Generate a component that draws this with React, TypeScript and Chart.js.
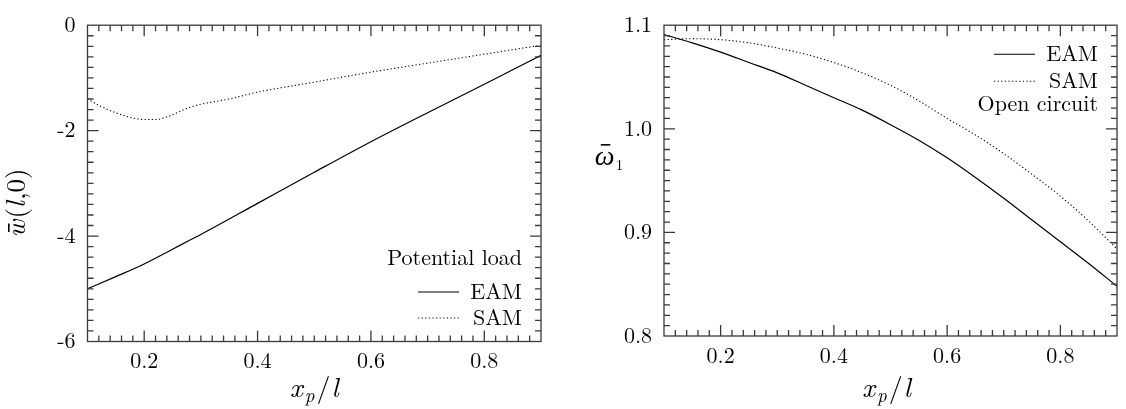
import React, { useEffect, useRef } from 'react';
import { Chart, registerables } from 'chart.js';

Chart.register(...registerables);

// ---------- data ----------
const xTicks = [0.2, 0.4, 0.6, 0.8];
const leftYTicks = [0, -2, -4, -6];
const rightYTicks = [0.8, 0.9, 1.0, 1.1];

const seriesNames = ['EAM', 'SAM'];
const leftLegendTitle = 'Potential load';
const rightLegendNote = 'Open circuit';

const leftEamX = [0.1, 0.15, 0.2, 0.25, 0.28, 0.3, 0.4, 0.5, 0.6, 0.7, 0.8, 0.9];
const leftEamY = [-5.0, -4.77, -4.53, -4.25, -4.08, -3.97, -3.38, -2.79, -2.21, -1.66, -1.12, -0.57];

const leftSamX = [0.1, 0.12, 0.14, 0.16, 0.18, 0.2, 0.22, 0.24, 0.26, 0.28, 0.3, 0.35, 0.4, 0.5, 0.6, 0.7, 0.8, 0.9];
const leftSamY = [-1.4, -1.52, -1.62, -1.7, -1.76, -1.79, -1.79, -1.74, -1.65, -1.56, -1.5, -1.4, -1.27, -1.08, -0.89, -0.72, -0.55, -0.38];

const rightX = [0.1, 0.15, 0.2, 0.25, 0.3, 0.35, 0.4, 0.45, 0.5, 0.55, 0.6, 0.65, 0.7, 0.75, 0.8, 0.85, 0.9];
const rightEamY = [1.091, 1.083, 1.074, 1.064, 1.054, 1.042, 1.03, 1.018, 1.004, 0.989, 0.972, 0.953, 0.933, 0.912, 0.891, 0.87, 0.848];
const rightSamY = [1.086, 1.087, 1.086, 1.083, 1.078, 1.072, 1.064, 1.054, 1.042, 1.027, 1.01, 0.994, 0.976, 0.956, 0.935, 0.911, 0.884];

// ---------- styling ----------
const FAMILY = "'Latin Modern Roman', 'Liberation Serif', serif";
const GREEK_FAMILY = "'Liberation Serif', serif";
const FRAME = '#3a3a3a';
const DOT_DASH = [1.2, 2.4];

type Part = { t: string; size: number; italic?: boolean; dy?: number; pad?: number; bar?: number; family?: string };

function drawParts(ctx: CanvasRenderingContext2D, parts: Part[], cx: number, baseline: number) {
  const font = (p: Part) => `${p.italic ? 'italic ' : ''}${p.size}px ${p.family || FAMILY}`;
  let total = 0;
  const ws = parts.map((p) => {
    ctx.font = font(p);
    const w = ctx.measureText(p.t).width + (p.pad || 0);
    total += w;
    return w;
  });
  let x = cx - total / 2;
  ctx.textAlign = 'left';
  ctx.textBaseline = 'alphabetic';
  ctx.fillStyle = '#000';
  parts.forEach((p, i) => {
    ctx.font = font(p);
    ctx.fillText(p.t, x, baseline + (p.dy || 0));
    if (p.bar) {
      const w = ctx.measureText(p.t).width;
      ctx.save();
      ctx.strokeStyle = '#000';
      ctx.lineWidth = 1.6;
      ctx.beginPath();
      const by = baseline - p.size * p.bar;
      ctx.moveTo(x + w * 0.3, by);
      ctx.lineTo(x + w * 0.78, by);
      ctx.stroke();
      ctx.restore();
    }
    x += ws[i];
  });
}

const framePlugin = {
  id: 'frameTicks',
  afterDatasetsDraw(chart: any, _args: any, opts: any) {
    const { ctx, chartArea: a, scales } = chart;
    const xs = scales.x;
    const ys = scales.y;
    ctx.save();
    ctx.strokeStyle = FRAME;
    ctx.lineWidth = 1.3;
    ctx.setLineDash([]);
    ctx.strokeRect(a.left, a.top, a.right - a.left, a.bottom - a.top);
    ctx.beginPath();
    const isMajor = (v: number, arr: number[]) => arr.some((m) => Math.abs(m - v) < 1e-7);
    const nx = Math.round((xs.max - xs.min) / opts.xMinor);
    for (let i = 1; i < nx; i++) {
      const v = xs.min + i * opts.xMinor;
      const p = xs.getPixelForValue(v);
      const L = isMajor(v, opts.xMajor) ? 11 : 6;
      ctx.moveTo(p, a.bottom);
      ctx.lineTo(p, a.bottom - L);
      ctx.moveTo(p, a.top);
      ctx.lineTo(p, a.top + L);
    }
    const ny = Math.round((ys.max - ys.min) / opts.yMinor);
    for (let i = 1; i < ny; i++) {
      const v = ys.min + i * opts.yMinor;
      const p = ys.getPixelForValue(v);
      const L = isMajor(v, opts.yMajor) ? 11 : 6;
      ctx.moveTo(a.left, p);
      ctx.lineTo(a.left + L, p);
      ctx.moveTo(a.right, p);
      ctx.lineTo(a.right - L, p);
    }
    ctx.stroke();
    ctx.restore();
  },
};

const legendPlugin = {
  id: 'cornerLegend',
  afterDraw(chart: any, _args: any, opts: any) {
    const { ctx, chartArea: a } = chart;
    ctx.save();
    ctx.font = `22px ${FAMILY}`;
    ctx.fillStyle = '#000';
    ctx.textAlign = 'right';
    ctx.textBaseline = 'middle';
    (opts.rows || []).forEach((r: any) => {
      const y = r.fromTop ? a.top + r.dy : a.bottom + r.dy;
      ctx.fillText(r.text, a.right - opts.textInset, y);
      if (r.dash) {
        ctx.beginPath();
        ctx.strokeStyle = '#000';
        ctx.lineWidth = 1.1;
        ctx.setLineDash(r.dash === 'dot' ? DOT_DASH : []);
        ctx.moveTo(a.right - opts.lineFrom, y);
        ctx.lineTo(a.right - opts.lineTo, y);
        ctx.stroke();
      }
    });
    ctx.restore();
  },
};

const titlePlugin = {
  id: 'mathTitles',
  afterDraw(chart: any, _args: any, opts: any) {
    const { ctx, chartArea: a } = chart;
    ctx.save();
    const cx = (a.left + a.right) / 2 + (opts.xTitleShift || 0);
    drawParts(
      ctx,
      [
        { t: 'x', size: 28, italic: true, pad: 2 },
        { t: 'p', size: 19, italic: true, dy: 5, pad: 2 },
        { t: '/', size: 28, pad: 1 },
        { t: 'l', size: 28, italic: true },
      ],
      cx,
      397,
    );
    if (opts.yTitle === 'w') {
      ctx.translate(25, 203);
      ctx.rotate(-Math.PI / 2);
      drawParts(
        ctx,
        [
          { t: 'w', size: 27, italic: true, bar: 0.6, pad: 1 },
          { t: '(', size: 27 },
          { t: 'l', size: 27, italic: true, pad: 1 },
          { t: ',0)', size: 27 },
        ],
        0,
        0,
      );
    } else {
      drawParts(
        ctx,
        [
          { t: 'ω', size: 28, italic: true, bar: 0.72, pad: 1, family: GREEK_FAMILY },
          { t: '1', size: 15, dy: 5 },
        ],
        46,
        165,
      );
    }
    ctx.restore();
  },
};

type PanelProps = {
  left: number;
  area: { left: number; top: number; right: number; bottom: number };
  yMin: number;
  yMax: number;
  yTicks: number[];
  yMinor: number;
  yFmt: (v: number) => string;
  eamX: number[];
  eamY: number[];
  samX: number[];
  samY: number[];
  legendRows: any[];
  yTitle: string;
  xTitleShift: number;
};

const W = 563;
const H = 409;

function Panel(props: PanelProps) {
  const ref = useRef<HTMLCanvasElement | null>(null);
  useEffect(() => {
    const canvas = ref.current;
    if (!canvas) return;
    let chart: any = null;
    let cancelled = false;
    const build = () => {
      if (cancelled) return;
      const a = props.area;
      const tickFont = { family: FAMILY, size: 22 };
      chart = new Chart(canvas, {
        type: 'line',
        data: {
          datasets: [
            {
              label: seriesNames[0],
              data: props.eamX.map((x, i) => ({ x, y: props.eamY[i] })),
              borderColor: '#000',
              borderWidth: 1.2,
              pointRadius: 0,
              fill: false,
              cubicInterpolationMode: 'monotone',
            },
            {
              label: seriesNames[1],
              data: props.samX.map((x, i) => ({ x, y: props.samY[i] })),
              borderColor: '#000',
              borderWidth: 1.1,
              borderDash: DOT_DASH,
              pointRadius: 0,
              fill: false,
              cubicInterpolationMode: 'monotone',
            },
          ],
        },
        options: {
          animation: false,
          responsive: false,
          maintainAspectRatio: false,
          devicePixelRatio: 1,
          layout: { padding: { top: a.top, right: W - a.right, left: 0, bottom: 0 } },
          plugins: {
            legend: { display: false },
            tooltip: { enabled: false },
            frameTicks: { xMinor: 0.02, xMajor: xTicks, yMinor: props.yMinor, yMajor: props.yTicks },
            cornerLegend: { rows: props.legendRows, textInset: 19, lineFrom: 123, lineTo: 82 },
            mathTitles: { yTitle: props.yTitle, xTitleShift: props.xTitleShift },
          } as any,
          scales: {
            x: {
              type: 'linear',
              min: 0.1,
              max: 0.9,
              grid: { display: false, drawTicks: false },
              border: { display: false },
              afterBuildTicks: (s: any) => {
                s.ticks = xTicks.map((v) => ({ value: v }));
              },
              afterFit: (s: any) => {
                s.height = H - a.bottom;
              },
              ticks: {
                font: tickFont,
                color: '#000',
                padding: 7,
                maxRotation: 0,
                autoSkip: false,
                callback: (v: any) => Number(v).toFixed(1),
              },
            },
            y: {
              type: 'linear',
              min: props.yMin,
              max: props.yMax,
              grid: { display: false, drawTicks: false },
              border: { display: false },
              afterBuildTicks: (s: any) => {
                s.ticks = props.yTicks.map((v) => ({ value: v }));
              },
              afterFit: (s: any) => {
                s.width = a.left;
              },
              ticks: {
                font: tickFont,
                color: '#000',
                padding: 12,
                autoSkip: false,
                callback: (v: any) => props.yFmt(Number(v)),
              },
            },
          },
        } as any,
        plugins: [framePlugin, legendPlugin, titlePlugin],
      });
    };
    const fonts: any = (document as any).fonts;
    if (fonts && fonts.load) {
      Promise.all([
        fonts.load("22px 'Latin Modern Roman'"),
        fonts.load("italic 27px 'Latin Modern Roman'"),
        fonts.load("italic 28px 'Liberation Serif'"),
      ])
        .catch(() => null)
        .then(build);
    } else {
      build();
    }
    return () => {
      cancelled = true;
      if (chart) chart.destroy();
    };
  }, []);
  return (
    <canvas
      ref={ref}
      width={W}
      height={H}
      style={{ position: 'absolute', left: props.left, top: 0, width: W, height: H }}
    />
  );
}

export default function App() {
  return (
    <div style={{ position: 'fixed', left: 0, top: 0, width: 1126, height: 409, background: '#fff', overflow: 'hidden' }}>
      <Panel
        left={0}
        area={{ left: 87.5, top: 24, right: 541, bottom: 341.5 }}
        yMin={-6}
        yMax={0}
        yTicks={leftYTicks}
        yMinor={0.2}
        yFmt={(v) => String(Math.round(v))}
        eamX={leftEamX}
        eamY={leftEamY}
        samX={leftSamX}
        samY={leftSamY}
        legendRows={[
          { text: leftLegendTitle, dy: -83.5 },
          { text: seriesNames[0], dy: -49.5, dash: 'solid' },
          { text: seriesNames[1], dy: -23.5, dash: 'dot' },
        ]}
        yTitle="w"
        xTitleShift={0}
      />
      <Panel
        left={563}
        area={{ left: 101, top: 20, right: 554, bottom: 336 }}
        yMin={0.8}
        yMax={1.1}
        yTicks={rightYTicks}
        yMinor={0.01}
        yFmt={(v) => v.toFixed(1)}
        eamX={rightX}
        eamY={rightEamY}
        samX={rightX}
        samY={rightSamY}
        legendRows={[
          { text: seriesNames[0], dy: 29, fromTop: true, dash: 'solid' },
          { text: seriesNames[1], dy: 56, fromTop: true, dash: 'dot' },
          { text: rightLegendNote, dy: 79, fromTop: true },
        ]}
        yTitle="omega"
        xTitleShift={-4}
      />
    </div>
  );
}
